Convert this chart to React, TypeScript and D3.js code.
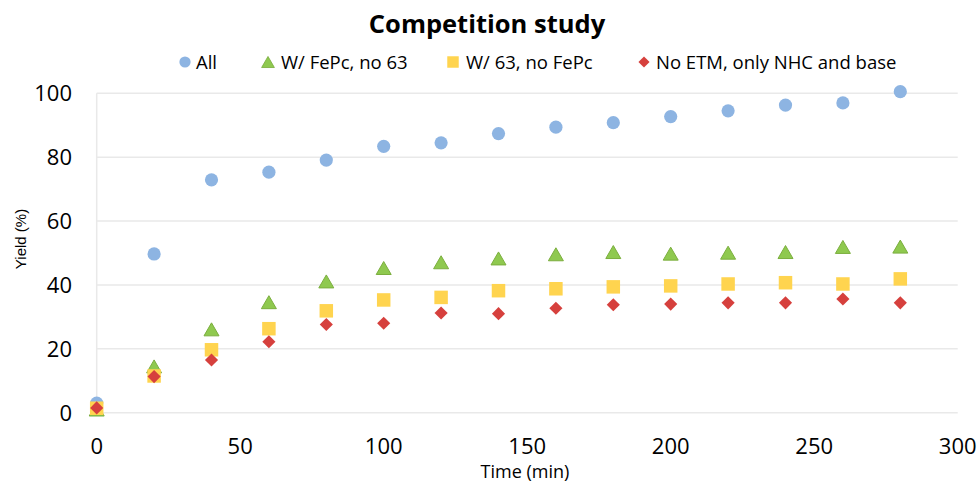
import React from "react";
import * as d3 from "d3";

const times = [0, 20, 40, 60, 80, 100, 120, 140, 160, 180, 200, 220, 240, 260, 280];
const allSeries = [3.0, 49.7, 72.9, 75.3, 79.1, 83.4, 84.5, 87.4, 89.4, 90.8, 92.7, 94.5, 96.3, 97.0, 100.5];
const fepcSeries = [1.0, 14.5, 26.1, 34.6, 41.1, 45.3, 47.1, 48.3, 49.6, 50.3, 49.8, 50.1, 50.3, 51.9, 52.0];
const w63Series = [1.4, 11.5, 19.7, 26.3, 31.9, 35.3, 36.1, 38.2, 38.8, 39.4, 39.7, 40.3, 40.7, 40.3, 41.9];
const noEtmSeries = [1.5, 11.3, 16.5, 22.2, 27.6, 28.0, 31.2, 31.0, 32.7, 33.8, 34.0, 34.4, 34.4, 35.6, 34.4];
const seriesNames = ["All", "W/ FePc, no 63", "W/ 63, no FePc", "No ETM, only NHC and base"];
const xTicks = [0, 50, 100, 150, 200, 250, 300];
const yTicks = [0, 20, 40, 60, 80, 100];

const W = 979, H = 483;
const FONT = "'Open Sans', sans-serif";

const x = d3.scaleLinear().domain([0, 300]).range([96.7, 957.7]);
const y = d3.scaleLinear().domain([0, 100]).range([412.7, 93.3]);

const triSide = 15;
const triPath = d3.symbol().type(d3.symbolTriangle).size((Math.sqrt(3) / 4) * triSide * triSide)()!;
const sqPath = d3.symbol().type(d3.symbolSquare).size(13.5 * 13.5)()!;
const diaPath = d3.symbol().type(d3.symbolSquare).size(9.3 * 9.3)()!;

type Kind = "circle" | "triangle" | "square" | "diamond";
const styles: { kind: Kind; fill: string; stroke: string }[] = [
  { kind: "circle", fill: "#8DB4E2", stroke: "none" },
  { kind: "triangle", fill: "#8FC94F", stroke: "#7BAE3E" },
  { kind: "square", fill: "#FFD44F", stroke: "none" },
  { kind: "diamond", fill: "#D6403D", stroke: "none" },
];

function Marker({ kind, fill, stroke, cx, cy, scale = 1 }: { kind: Kind; fill: string; stroke: string; cx: number; cy: number; scale?: number }) {
  if (kind === "circle") return <circle cx={cx} cy={cy} r={6.6 * scale} fill={fill} />;
  if (kind === "triangle")
    return (
      <path d={triPath} transform={`translate(${cx},${cy + ((triSide * Math.sqrt(3)) / 2 / 6) * scale}) scale(${scale})`} fill={fill} stroke={stroke} strokeWidth={1} />
    );
  if (kind === "square") return <path d={sqPath} transform={`translate(${cx},${cy}) scale(${scale})`} fill={fill} />;
  return <path d={diaPath} transform={`translate(${cx},${cy}) rotate(45) scale(${scale})`} fill={fill} />;
}

const allData = [allSeries, fepcSeries, w63Series, noEtmSeries];
const legendMarkerX = [185, 268, 453, 644];
const legendTextX = [196, 281, 466, 656];

export default function App() {
  return (
    <svg width={W} height={H} style={{ position: "absolute", left: 0, top: 0, background: "#fff" }}>
      <rect width={W} height={H} fill="#fff" />
      <text x={487} y={33} textAnchor="middle" fontFamily={FONT} fontWeight={700} fontSize={25.5} fill="#000">
        Competition study
      </text>
      {/* legend */}
      {seriesNames.map((n, i) => (
        <g key={n}>
          <Marker {...styles[i]} cx={legendMarkerX[i]} cy={62} scale={0.85} />
          <text x={legendTextX[i]} y={68.5} fontFamily={FONT} fontSize={18.5} fill="#000">
            {n}
          </text>
        </g>
      ))}
      {/* gridlines */}
      {yTicks.map((t) => (
        <line key={t} x1={x(0)} x2={x(300)} y1={y(t)} y2={y(t)} stroke="#E9E9E9" strokeWidth={1.5} />
      ))}
      <line x1={x(0)} x2={x(0)} y1={y(0)} y2={y(100)} stroke="#E9E9E9" strokeWidth={1.5} />
      {/* y ticks */}
      {yTicks.map((t) => (
        <text key={t} x={72} y={y(t) + 8} textAnchor="end" fontFamily={FONT} fontSize={22} fill="#000">
          {t}
        </text>
      ))}
      {/* x ticks */}
      {xTicks.map((t) => (
        <text key={t} x={x(t)} y={454} textAnchor="middle" fontFamily={FONT} fontSize={22} fill="#000">
          {t}
        </text>
      ))}
      <text x={525} y={478} textAnchor="middle" fontFamily={FONT} fontSize={18} fill="#000">
        Time (min)
      </text>
      <text transform={`translate(26,239) rotate(-90)`} textAnchor="middle" fontFamily="'Liberation Sans', Arial, sans-serif" fontSize={15} fill="#000">
        Yield (%)
      </text>
      {/* points */}
      {allData.map((series, si) => (
        <g key={si}>
          {series.map((v, i) => (
            <Marker key={i} {...styles[si]} cx={x(times[i])} cy={y(v)} />
          ))}
        </g>
      ))}
    </svg>
  );
}
